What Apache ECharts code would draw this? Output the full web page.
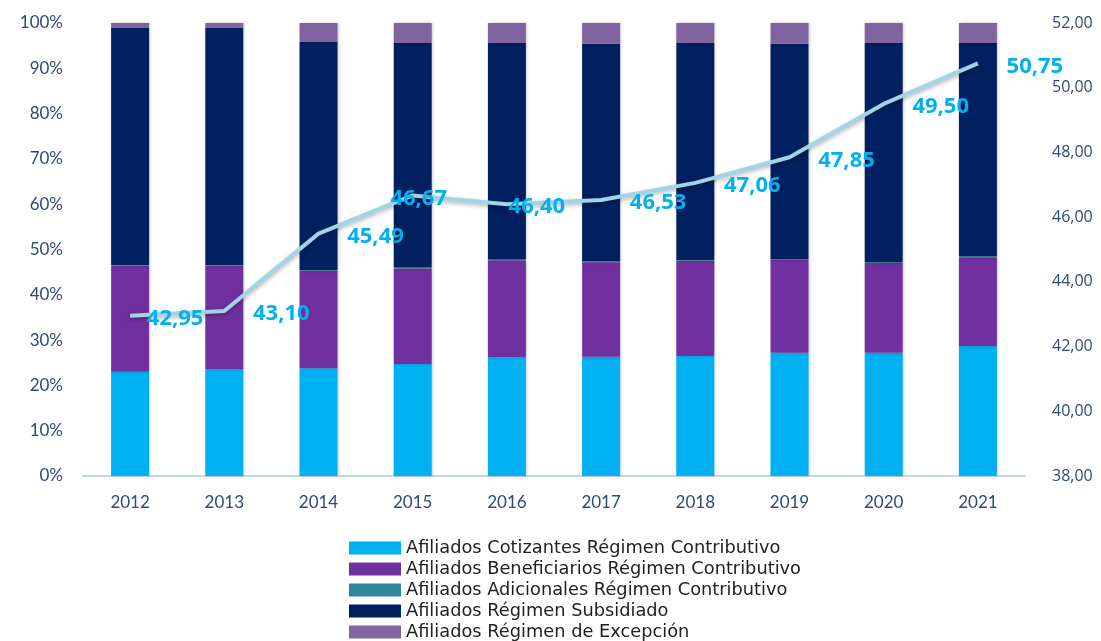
<!DOCTYPE html>
<html>
<head>
<meta charset="utf-8">
<script src="https://cdn.jsdelivr.net/npm/echarts@6/dist/echarts.min.js"></script>
<style>
  html, body { margin: 0; padding: 0; background: #fff; }
  #chart { width: 1101px; height: 641px; }
</style>
</head>
<body>
<div id="chart"></div>
<script>
// datos
var years = ['2012', '2013', '2014', '2015', '2016', '2017', '2018', '2019', '2020', '2021'];
var cotizantes = [23.0, 23.6, 23.8, 24.7, 26.2, 26.3, 26.5, 27.2, 27.2, 28.7];
var beneficiarios = [23.4, 22.8, 21.5, 21.1, 21.4, 20.9, 21.0, 20.5, 19.8, 19.6];
var adicionales = [0.2, 0.2, 0.2, 0.2, 0.2, 0.2, 0.2, 0.2, 0.2, 0.2];
var subsidiado = [52.4, 52.4, 50.3, 49.6, 47.8, 48.0, 47.9, 47.5, 48.4, 47.1];
var excepcion = [1.0, 1.0, 4.2, 4.4, 4.4, 4.6, 4.4, 4.6, 4.4, 4.4];
var afiliados = [42.95, 43.10, 45.49, 46.67, 46.40, 46.53, 47.06, 47.85, 49.50, 50.75];
var pctTicks = [0, 10, 20, 30, 40, 50, 60, 70, 80, 90, 100];

var axisFont = 'Lato, "Open Sans", sans-serif';
var axisColor = '#2E4A78';

function barSerie(name, data, color) {
    return {
        name: name,
        type: 'bar',
        stack: 'total',
        barWidth: 38,
        yAxisIndex: 0,
        itemStyle: {
            color: color,
            shadowColor: 'rgba(0,0,0,0.25)',
            shadowBlur: 3,
            shadowOffsetX: 1
        },
        data: data
    };
}

var myChart = echarts.init(document.getElementById('chart'));

var option = {
    backgroundColor: '#ffffff',
    animation: false,
    grid: { left: 83, right: 76, top: 23, bottom: 165, containLabel: false, outerBoundsMode: 'none' },
    legend: {
        orient: 'vertical',
        left: 344,
        top: 534,
        height: 120,
        itemWidth: 52,
        itemHeight: 13,
        itemGap: 3,
        icon: 'rect',
        textStyle: { fontFamily: '"DejaVu Sans", sans-serif', fontSize: 17.8, color: '#222' },
        data: [
            'Afiliados Cotizantes Régimen Contributivo',
            'Afiliados Beneficiarios Régimen Contributivo',
            'Afiliados Adicionales Régimen Contributivo',
            'Afiliados Régimen Subsidiado',
            'Afiliados Régimen de Excepción'
        ]
    },
    xAxis: {
        type: 'category',
        data: years,
        axisLine: { lineStyle: { color: '#C5D6EC', width: 2 } },
        axisTick: { show: false },
        axisLabel: { fontFamily: axisFont, fontSize: 17, color: axisColor, margin: 18 }
    },
    yAxis: [
        {
            type: 'value',
            min: pctTicks[0],
            max: pctTicks[pctTicks.length - 1],
            interval: 10,
            splitLine: { show: false },
            axisLine: { show: false },
            axisTick: { show: false },
            axisLabel: {
                fontFamily: axisFont, fontSize: 17, color: axisColor, margin: 20,
                formatter: '{value}%'
            }
        },
        {
            type: 'value',
            min: 38,
            max: 52,
            interval: 2,
            splitLine: { show: false },
            axisLine: { show: false },
            axisTick: { show: false },
            axisLabel: {
                fontFamily: '"Open Sans", sans-serif', fontSize: 16, color: axisColor, margin: 27,
                formatter: function (v) { return v.toFixed(2).replace('.', ','); }
            }
        }
    ],
    series: [
        barSerie('Afiliados Cotizantes Régimen Contributivo', cotizantes, '#00B0F0'),
        barSerie('Afiliados Beneficiarios Régimen Contributivo', beneficiarios, '#7030A0'),
        barSerie('Afiliados Adicionales Régimen Contributivo', adicionales, '#31859C'),
        barSerie('Afiliados Régimen Subsidiado', subsidiado, '#002060'),
        barSerie('Afiliados Régimen de Excepción', excepcion, '#8064A2'),
        {
            name: 'Afiliados',
            type: 'line',
            yAxisIndex: 1,
            showSymbol: true,
            symbol: 'circle',
            symbolSize: 1,
            itemStyle: { color: 'rgba(0,0,0,0)' },
            lineStyle: {
                color: '#A0D4E6', width: 4,
                shadowColor: 'rgba(0,0,0,0.3)', shadowBlur: 4, shadowOffsetY: 2
            },
            z: 5,
            data: afiliados.map(function (v, i) {
                // la mayoría de etiquetas van a la derecha del punto
                var dx = (i === 3) ? 6 : (i === 4 ? 30 : (i === 0 ? 45 : 57));
                return {
                    value: v,
                    label: {
                        show: true,
                        position: 'inside',
                        offset: [dx, 3],
                        fontFamily: '"Open Sans", sans-serif',
                        fontWeight: 'bold',
                        fontSize: 22,
                        color: '#00B0F0',
                        formatter: function (p) { return p.value.toFixed(2).replace('.', ','); }
                    }
                };
            })
        }
    ]
};

myChart.setOption(option);
</script>
</body>
</html>
